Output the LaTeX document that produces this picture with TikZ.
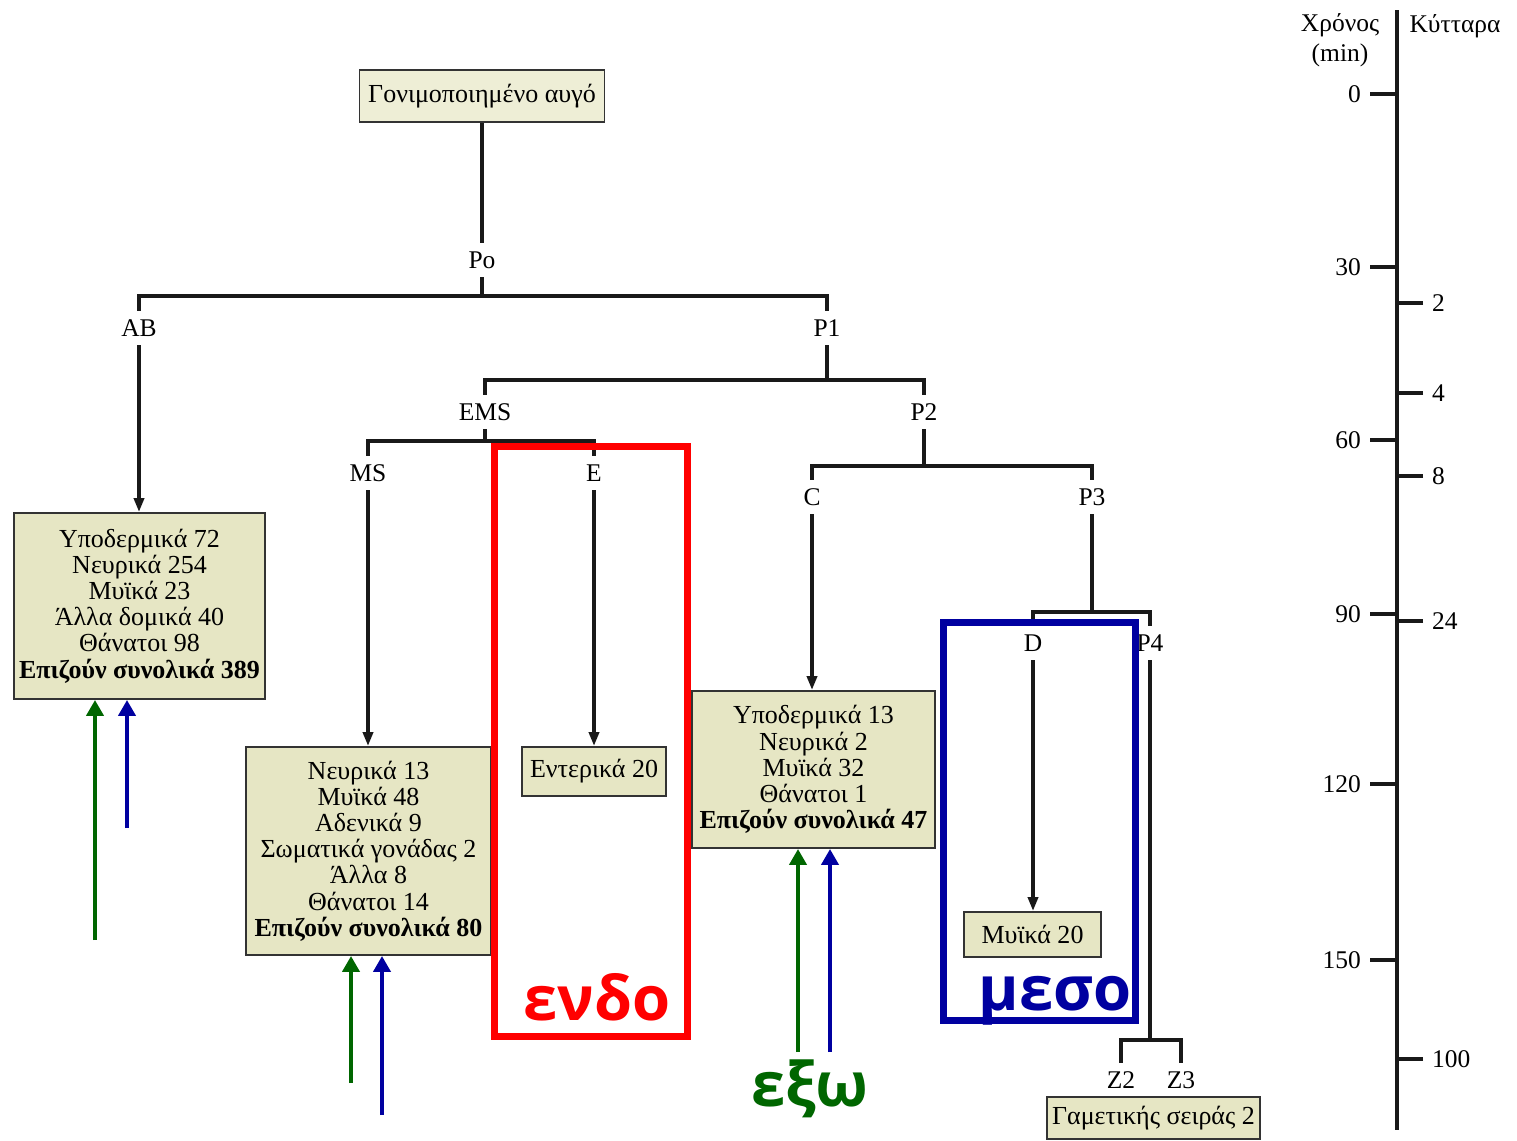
\documentclass[tikz,border=0pt]{standalone}
\usepackage{fontspec}
\setmainfont{Liberation Serif}
\newfontfamily\tagfont{Open Sans}
\usetikzlibrary{arrows.meta}
\definecolor{boxfill}{RGB}{230,230,196}
\definecolor{eggfill}{RGB}{238,238,214}
\definecolor{endored}{RGB}{255,0,0}
\definecolor{mesoblue}{RGB}{0,0,160}
\definecolor{exogreen}{RGB}{0,102,0}
\tikzset{
  box/.style={draw=black!80, line width=1.1pt, fill=boxfill, align=center, inner sep=0pt,
    font=\fontsize{14.8}{14.9}\selectfont},
  lbl/.style={inner sep=5pt, text height=9.5pt, text depth=0pt, font=\fontsize{14.5}{16}\selectfont},
  tree/.style={line width=2pt, black!90},
  down/.style={tree, -{Triangle[length=0.28cm,width=0.2cm]}},
  garr/.style={line width=2.8pt, exogreen, -{Triangle[length=0.32cm,width=0.34cm]}},
  barr/.style={line width=2.8pt, mesoblue, -{Triangle[length=0.32cm,width=0.34cm]}},
  tag/.style={anchor=base, inner sep=0pt, font=\tagfont\bfseries\fontsize{35}{40}\selectfont}
}
\begin{document}
\begin{tikzpicture}[x=0.02cm,y=-0.02cm]
\fill[white] (0,0) rectangle (1517,1140);
\useasboundingbox (0,0) rectangle (1517,1140);

% lineage tree
\node[box, fill=eggfill, minimum width=4.9cm, minimum height=1.04cm] (egg) at (482,96) {Γονιμοποιημένο αυγό};
\node[lbl] (Po) at (482,260) {Po};
\node[lbl] (AB) at (139,328) {AB};
\node[lbl] (P1) at (827,328) {P1};
\node[lbl] (EMS) at (485,412) {EMS};
\node[lbl] (P2) at (924,412) {P2};
\node[lbl] (MS) at (368,473) {MS};
\node[lbl] (E) at (594,473) {E};
\node[lbl] (C) at (812,497) {C};
\node[lbl] (P3) at (1092,497) {P3};
\node[lbl] (D) at (1033,643) {D};
\node[lbl] (P4) at (1150,643) {P4};
\node[lbl] (Z2) at (1121,1080) {Z2};
\node[lbl] (Z3) at (1181,1080) {Z3};

\coordinate (bPo) at (482,296);
\coordinate (bP1) at (827,380);
\coordinate (bEMS) at (485,441);
\coordinate (bP2) at (924,466);
\coordinate (bP3) at (1092,612);
\coordinate (bP4) at (1150,1040);

\draw[tree] (egg) -- (Po);
\draw[tree] (Po.south) -- (bPo);
\draw[tree] (AB.north) |- (bPo) -| (P1.north);
\draw[tree] (P1.south) -- (bP1);
\draw[tree] (EMS.north) |- (bP1) -| (P2.north);
\draw[tree] (EMS.south) -- (bEMS);
\draw[tree] (MS.north) |- (bEMS) -| (E.north);
\draw[tree] (P2.south) -- (bP2);
\draw[tree] (C.north) |- (bP2) -| (P3.north);
\draw[tree] (P3.south) -- (bP3);
\draw[tree] (D.north) |- (bP3) -| (P4.north);
\draw[tree] (P4.south) -- (bP4);
\draw[tree] (Z2.north) |- (bP4) -| (Z3.north);

% cell fates
\node[box, minimum width=5.02cm, minimum height=3.72cm] (fateAB) at (139.5,606) {Υποδερμικά 72\\Νευρικά 254\\Μυϊκά 23\\Άλλα δομικά 40\\Θάνατοι 98\\\textbf{Επιζούν συνολικά 389}};
\node[box, minimum width=4.9cm, minimum height=4.16cm] (fateMS) at (368.5,851) {Νευρικά 13\\Μυϊκά 48\\Αδενικά 9\\Σωματικά γονάδας 2\\Άλλα 8\\Θάνατοι 14\\\textbf{Επιζούν συνολικά 80}};
\node[box, minimum width=2.88cm, minimum height=0.98cm] (fateE) at (594,771.5) {Εντερικά 20};
\node[box, minimum width=4.86cm, minimum height=3.14cm] (fateC) at (813.5,769.5) {Υποδερμικά 13\\Νευρικά 2\\Μυϊκά 32\\Θάνατοι 1\\\textbf{Επιζούν συνολικά 47}};
\node[box, minimum width=2.74cm, minimum height=0.9cm] (fateD) at (1032.5,934.5) {Μυϊκά 20};
\node[box, minimum width=4.26cm, minimum height=0.84cm] (fateZ) at (1153.5,1118) {Γαμετικής σειράς 2};

\draw[down] (AB.south) -- (AB.south |- fateAB.north);
\draw[down] (MS.south) -- (MS.south |- fateMS.north);
\draw[down] (E.south) -- (E.south |- fateE.north);
\draw[down] (C.south) -- (C.south |- fateC.north);
\draw[down] (D.south) -- (D.south |- fateD.north);

% time axis
\coordinate (axtop) at (1397,10);
\coordinate (axbot) at (1397,1130);
\draw[tree] (axtop) -- (axbot);
\node[align=center, inner sep=0pt, font=\fontsize{14.5}{17}\selectfont] (hdrtime) at (1340,40) {Χρόνος\\(min)};
\node[lbl, inner sep=0pt] (hdrcell) at (1455,24) {Κύτταρα};
\node[lbl, anchor=east, inner sep=5pt] (t0) at (1370,94) {0};
\node[lbl, anchor=east, inner sep=5pt] (t30) at (1370,267) {30};
\node[lbl, anchor=east, inner sep=5pt] (t60) at (1370,440) {60};
\node[lbl, anchor=east, inner sep=5pt] (t90) at (1370,614) {90};
\node[lbl, anchor=east, inner sep=5pt] (t120) at (1370,784) {120};
\node[lbl, anchor=east, inner sep=5pt] (t150) at (1370,960) {150};
\draw[tree] (t0.east) -- (t0.east -| axtop);
\draw[tree] (t30.east) -- (t30.east -| axtop);
\draw[tree] (t60.east) -- (t60.east -| axtop);
\draw[tree] (t90.east) -- (t90.east -| axtop);
\draw[tree] (t120.east) -- (t120.east -| axtop);
\draw[tree] (t150.east) -- (t150.east -| axtop);
\node[lbl, anchor=west, inner sep=5pt] (n2) at (1423,303) {2};
\node[lbl, anchor=west, inner sep=5pt] (n4) at (1423,393) {4};
\node[lbl, anchor=west, inner sep=5pt] (n8) at (1423,476) {8};
\node[lbl, anchor=west, inner sep=5pt] (n24) at (1423,621) {24};
\node[lbl, anchor=west, inner sep=5pt] (n100) at (1423,1059) {100};
\draw[tree] (n2.west) -- (n2.west -| axtop);
\draw[tree] (n4.west) -- (n4.west -| axtop);
\draw[tree] (n8.west) -- (n8.west -| axtop);
\draw[tree] (n24.west) -- (n24.west -| axtop);
\draw[tree] (n100.west) -- (n100.west -| axtop);

% germ layers
\draw[endored, line width=0.14cm] (494.5,446.5) rectangle (687.5,1036.5);
\draw[mesoblue, line width=0.14cm] (943.5,622) rectangle (1135.5,1020.5);
\node[tag, endored] (endo) at (597,1020) {ενδο};
\node[tag, mesoblue] (meso) at (1055,1010) {μεσο};
\node[tag, exogreen] (exo) at (810,1106) {εξω};

\coordinate (g1) at (95,940);
\coordinate (u1) at (127,828);
\coordinate (g2) at (351,1083);
\coordinate (u2) at (382,1115);
\coordinate (g3) at (798,1052);
\coordinate (u3) at (830,1052);
\draw[garr] (g1) -- (g1 |- fateAB.south);
\draw[barr] (u1) -- (u1 |- fateAB.south);
\draw[garr] (g2) -- (g2 |- fateMS.south);
\draw[barr] (u2) -- (u2 |- fateMS.south);
\draw[garr] (g3) -- (g3 |- fateC.south);
\draw[barr] (u3) -- (u3 |- fateC.south);
\end{tikzpicture}
\end{document}
